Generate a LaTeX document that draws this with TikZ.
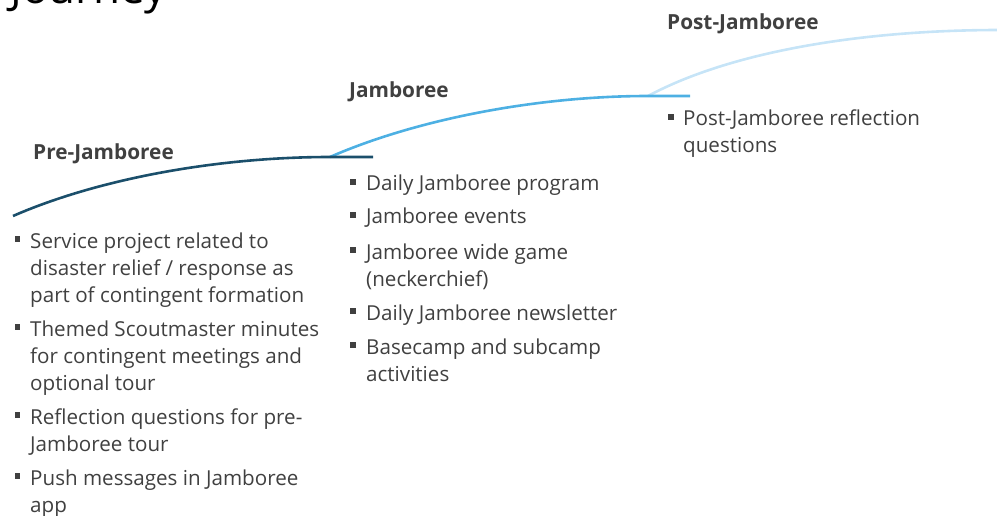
\documentclass[tikz,border=0pt]{standalone}
\usepackage{fontspec}
\setmainfont{Open Sans}
\definecolor{txt}{HTML}{404040}
\definecolor{prec}{HTML}{1B4F6B}
\definecolor{jamc}{HTML}{4DB0E3}
\definecolor{postc}{HTML}{C6E4F7}
\begin{document}
\begin{tikzpicture}[x=1pt,y=-1pt,
  body/.style={font=\fontsize{20.6}{27}\selectfont, text=txt, anchor=base west, inner sep=0pt, align=left},
  head/.style={font=\fontsize{20.8}{24}\selectfont\bfseries, text=txt, anchor=base west, inner sep=0pt},
  bul/.style={fill=txt, minimum size=5.5pt, inner sep=0pt, draw=none},
  lineA/.style={line width=2.6pt, prec},
  lineB/.style={line width=2.6pt, jamc},
  lineC/.style={line width=2.6pt, postc}]
\useasboundingbox (0,0) rectangle (997,516);
\clip (0,0) rectangle (997,516);
% title (cut off at the top)
\node[font=\fontsize{44}{50}\selectfont, text=black, anchor=base east, inner sep=0pt] (title) at (167,4) {Journey};
% curves
\coordinate (c0) at (13,216);
\coordinate (c1) at (330,157);
\coordinate (c1e) at (373,157);
\coordinate (c2) at (648,96);
\coordinate (c2e) at (690,96);
\coordinate (c3) at (1000,30);
\draw[lineC] (c2) .. controls (730,52) and (860,30) .. (c3);
\draw[lineB] (c1) .. controls (417,119) and (538,96) .. (c2) -- (c2e);
\draw[lineA] (c0) .. controls (100,178) and (220,157) .. (c1) -- (c1e);
% headings
\node[head] (pre) at (33,160) {Pre-Jamboree};
\node[head] (jam) at (349,98) {Jamboree};
\node[head] (post) at (667,30) {Post-Jamboree};
% column 1 (node position = baseline of the last line)
\node[bul] (p1b) at (17.5,239) {};
\node[body] (p1) at (30,302) {Service project related to\\disaster relief / response as\\part of contingent formation};
\node[bul] (p2b) at (17.5,327) {};
\node[body] (p2) at (30,390) {Themed Scoutmaster minutes\\for contingent meetings and\\optional tour};
\node[bul] (p3b) at (17.5,415) {};
\node[body] (p3) at (30,451) {Reflection questions for pre-\\Jamboree tour};
\node[bul] (p4b) at (17.5,476) {};
\node[body] (p4) at (30,512) {Push messages in Jamboree\\app};
% column 2
\node[bul] (j1b) at (353,182) {};
\node[body] (j1) at (366,191) {Daily Jamboree program};
\node[bul] (j2b) at (353,215) {};
\node[body] (j2) at (366,224) {Jamboree events};
\node[bul] (j3b) at (353,250) {};
\node[body] (j3) at (366,286) {Jamboree wide game\\(neckerchief)};
\node[bul] (j4b) at (353,311) {};
\node[body] (j4) at (366,320) {Daily Jamboree newsletter};
\node[bul] (j5b) at (353,345) {};
\node[body] (j5) at (366,381) {Basecamp and subcamp\\activities};
% column 3
\node[bul] (q1b) at (671,117) {};
\node[body] (q1) at (683,153) {Post-Jamboree reflection\\questions};
\end{tikzpicture}
\end{document}
